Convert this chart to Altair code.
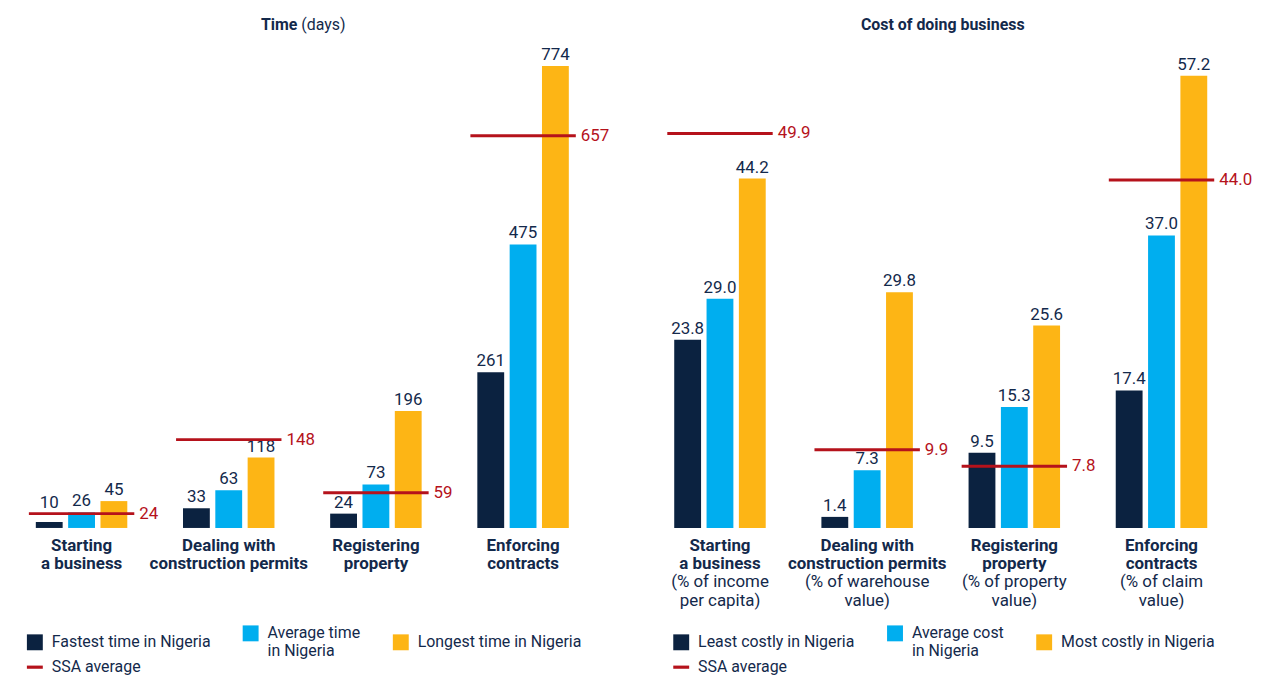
import altair as alt
import pandas as pd

FONT = "Roboto"
NAVY = "#0b2240"
BLUE = "#00aeef"
YELLOW = "#fdb515"
RED = "#b5121b"
TEXT = "#13294b"
AXIS = "#d7dadc"
SSA = "SSA average"

categories = ["Starting\na business", "Dealing with\nconstruction permits",
              "Registering\nproperty", "Enforcing\ncontracts"]

time_series = ["Fastest time in Nigeria", "Average time\nin Nigeria", "Longest time in Nigeria"]
time_fastest = [10, 33, 24, 261]
time_average = [26, 63, 73, 475]
time_longest = [45, 118, 196, 774]
time_ssa = [24, 148, 59, 657]

cost_series = ["Least costly in Nigeria", "Average cost\nin Nigeria", "Most costly in Nigeria"]
cost_least = [23.8, 1.4, 9.5, 17.4]
cost_average = [29.0, 7.3, 15.3, 37.0]
cost_most = [44.2, 29.8, 25.6, 57.2]
cost_ssa = [49.9, 9.9, 7.8, 44.0]
cost_notes = ["(% of income\nper capita)", "(% of warehouse\nvalue)",
              "(% of property\nvalue)", "(% of claim\nvalue)"]

W = 592
H = 479
GROUP_W = 92
LINE_SYMBOL = "M-1,-0.2H1V0.2H-1Z"


def make_panel(series, values, ssa, notes, ymax, fmt, title_parts, legend_x):
    rows = []
    for i, cat in enumerate(categories):
        for s, vals in zip(series, values):
            rows.append({"cat": cat, "series": s, "value": vals[i], "ssa": ssa[i]})
    bars_df = pd.DataFrame(rows)
    ssa_df = pd.DataFrame({"cat": categories, "series": [SSA] * 4, "value": ssa})
    cat_df = pd.DataFrame({"cat": categories, "note": notes})

    xscale = alt.Scale(type="band", domain=categories, paddingInner=0.378, paddingOuter=0.189)
    x_axis = alt.X("cat:N", scale=xscale,
                   axis=alt.Axis(title=None, labels=False, ticks=False, grid=False,
                                 domainColor=AXIS, domainWidth=2))
    x_plain = alt.X("cat:N", scale=xscale, axis=None)
    yscale = alt.Scale(domain=[0, ymax], nice=False, zero=True)
    xo = alt.XOffset("series:N",
                     scale=alt.Scale(type="band", domain=series, range=[0, GROUP_W],
                                     paddingInner=0.17, paddingOuter=0))
    legend = alt.Legend(
        title=None, orient="none", legendX=legend_x, legendY=H + 98,
        direction="horizontal", columns=3, columnPadding=32, rowPadding=0,
        symbolSize=256, symbolStrokeWidth=0, symbolOpacity=1,
        labelFont=FONT, labelFontSize=16, labelColor=TEXT, labelOffset=9,
        labelLimit=300, labelBaseline="middle",
        labelExpr="split(datum.label, '\\n')",
    )
    domain = series + [SSA]
    color = alt.Color("series:N",
                      scale=alt.Scale(domain=domain, range=[NAVY, BLUE, YELLOW, RED]),
                      legend=legend)
    shape = alt.Shape("series:N",
                      scale=alt.Scale(domain=domain,
                                      range=["square", "square", "square", LINE_SYMBOL]),
                      legend=legend)

    bars = alt.Chart(bars_df).mark_bar(opacity=1).encode(
        x=x_axis, xOffset=xo, y=alt.Y("value:Q", scale=yscale, axis=None), color=color)

    # invisible point layer that only feeds the legend its symbol shapes
    legend_feed = alt.Chart(bars_df).transform_filter("false").mark_point(
        filled=True, opacity=1).encode(
        x=x_plain, y=alt.Y("value:Q", scale=yscale, axis=None), color=color, shape=shape)

    labels = alt.Chart(bars_df).transform_calculate(
        ly=f"datum.ssa > datum.value && datum.ssa - datum.value < {0.03 * ymax} ? datum.ssa : datum.value"
    ).mark_text(baseline="bottom", dy=-2, fontSize=17, font=FONT, color=TEXT).encode(
        x=x_plain, xOffset=xo, y=alt.Y("ly:Q", scale=yscale, axis=None),
        text=alt.Text("value:Q", format=fmt))

    ticks = alt.Chart(ssa_df).mark_tick(size=106, thickness=3, opacity=1).encode(
        x=x_plain, y=alt.Y("value:Q", scale=yscale, axis=None), color=color)

    ssa_labels = alt.Chart(ssa_df).mark_text(
        align="left", baseline="middle", dx=58, fontSize=17, font=FONT, color=RED).encode(
        x=x_plain, y=alt.Y("value:Q", scale=yscale, axis=None),
        text=alt.Text("value:Q", format=fmt))

    cat_labels = alt.Chart(cat_df).mark_text(
        baseline="top", align="center", lineBreak="\n", lineHeight=18,
        fontSize=17, fontWeight="bold", font=FONT, color=TEXT).encode(
        x=x_plain, y=alt.value(H + 10), text="cat:N")

    layers = [bars, legend_feed, labels, ticks, ssa_labels, cat_labels]

    if any(notes):
        note_labels = alt.Chart(cat_df).mark_text(
            baseline="top", align="center", lineBreak="\n", lineHeight=19,
            fontSize=17, font=FONT, color=TEXT).encode(
            x=x_plain, y=alt.value(H + 46), text="note:N")
        layers.append(note_labels)

    for txt, weight, align, xpos in title_parts:
        t = alt.Chart(pd.DataFrame({"t": [txt]})).mark_text(
            baseline="middle", align=align, fontSize=16, fontWeight=weight,
            font=FONT, color=TEXT).encode(x=alt.value(xpos), y=alt.value(-27), text="t:N")
        layers.append(t)

    return alt.layer(*layers).properties(width=W, height=H)


left = make_panel(time_series, [time_fastest, time_average, time_longest], time_ssa,
                  ["", "", "", ""], 798, "d",
                  [("Time", "bold", "right", 291), ("(days)", "normal", "left", 295)], 19)
right = make_panel(cost_series, [cost_least, cost_average, cost_most], cost_ssa,
                   cost_notes, 60.25, ".1f",
                   [("Cost of doing business", "bold", "center", 298)], 27)

chart = alt.hconcat(left, right, spacing=50, bounds="flush").resolve_scale(
    color="independent", shape="independent", y="independent", xOffset="independent"
).resolve_legend(color="independent", shape="independent").properties(
    padding={"top": 7, "left": 0, "right": 0, "bottom": 0}
).configure_view(stroke=None)

chart.save("out.html", embed_options={"renderer": "svg", "actions": False})
